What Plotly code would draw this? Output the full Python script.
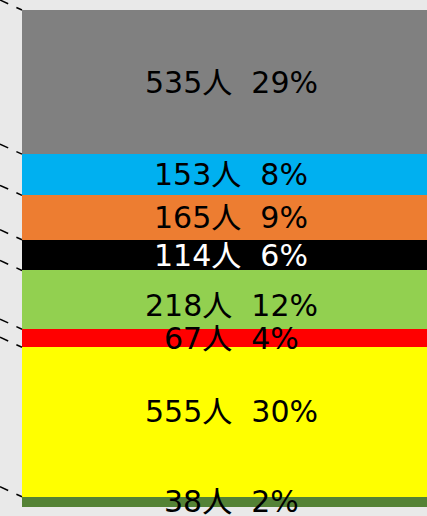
import plotly.graph_objects as go

# segments from bottom to top
counts = [38, 555, 67, 218, 114, 165, 153, 535]
percents = [2, 30, 4, 12, 6, 9, 8, 29]
colors = ['#548235', '#FFFF00', '#FF0000', '#92D050', '#000000', '#ED7D31', '#00B0F0', '#808080']
text_colors = ['black', 'black', 'black', 'black', 'white', 'black', 'black', 'black']

total = sum(counts)
px_per_unit = 497 / total

fig = go.Figure()
for c, col in zip(counts, colors):
    fig.add_trace(go.Bar(
        x=[0], y=[c], width=1,
        marker=dict(color=col, line=dict(width=0)),
        showlegend=False, hoverinfo='skip'
    ))

# small nudges of some labels, as in the original
shifts = {555: 11, 218: -6}

bottom = 0
for c, p, tc in zip(counts, percents, text_colors):
    fig.add_annotation(
        x=0, y=bottom + c / 2, xref='x', yref='y',
        text=f'{c}人\u00a0\u00a0{p}%', showarrow=False,
        yshift=shifts.get(c, 0),
        font=dict(family='DejaVu Sans, Noto Sans CJK JP', size=30, color=tc)
    )
    top = bottom + c
    # dashed leader line to the top-left corner of each segment
    fig.add_shape(
        type='line', xref='paper', yref='y',
        x0=0, x1=22 / 427, y0=top + 10 / px_per_unit, y1=top,
        line=dict(color='black', width=1.5, dash='dash')
    )
    bottom = top

fig.update_layout(
    barmode='stack',
    width=427, height=516,
    margin=dict(l=0, r=0, t=0, b=0),
    paper_bgcolor='#e9e9e9',
    plot_bgcolor='#e9e9e9',
    xaxis=dict(range=[-0.5 - 22 / 418, -0.5 - 22 / 418 + 427 / 418], visible=False),
    yaxis=dict(range=[-9 / px_per_unit, total + 10 / px_per_unit], visible=False),
)
fig.write_html("out.html", config={'displayModeBar': False},
               post_script="document.body.style.margin='0';")
